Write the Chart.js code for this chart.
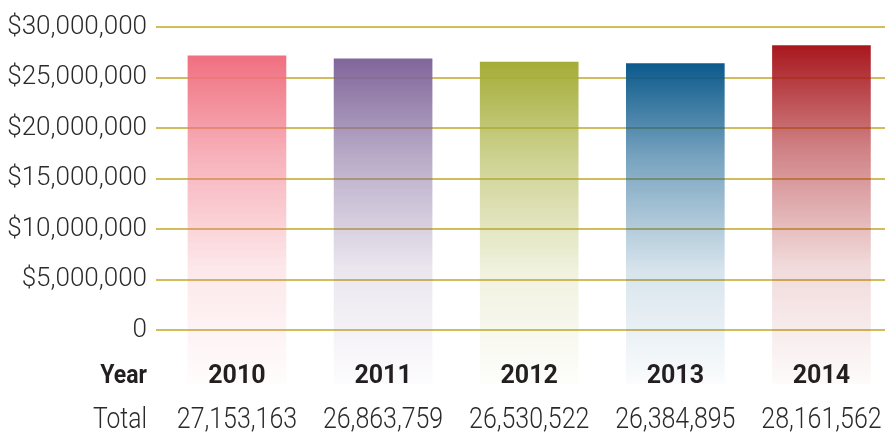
<!DOCTYPE html>
<html>
<head>
<meta charset="utf-8">
<title>Total by Year</title>
<script src="https://cdn.jsdelivr.net/npm/chart.js@4.4.1/dist/chart.umd.min.js"></script>
<style>
  html, body { margin: 0; padding: 0; background: #fff; }
  #wrap { width: 885px; height: 432px; }
</style>
</head>
<body>
<div id="wrap"><canvas id="myChart" width="885" height="432"></canvas></div>
<script>
'use strict';

// Data
let years = ['2010', '2011', '2012', '2013', '2014'];
let totals = [27153163, 26863759, 26530522, 26384895, 28161562];
let barColors = ['#f07080', '#80669a', '#a5ad37', '#0c5a8c', '#a8181e'];
let yTicks = [0, 5000000, 10000000, 15000000, 20000000, 25000000, 30000000];

// bars fade out a little below the zero line
let yMin = -5290000;
let yMax = 30240000;

let labelFont = "Roboto, 'Liberation Sans', sans-serif";

function hexToRgb(hex) {
  let n = parseInt(hex.slice(1), 16);
  return `${(n >> 16) & 255},${(n >> 8) & 255},${n & 255}`;
}

function barGradient(context) {
  let i = context.dataIndex;
  if (i === undefined) {
    return barColors[0];
  }
  let chart = context.chart;
  let area = chart.chartArea;
  if (!area) {
    return barColors[i];
  }
  let rgb = hexToRgb(barColors[i]);
  let top = chart.scales.y.getPixelForValue(totals[i]);
  let g = chart.ctx.createLinearGradient(0, top, 0, area.bottom);
  g.addColorStop(0, `rgba(${rgb},1)`);
  g.addColorStop(0.3, `rgba(${rgb},0.55)`);
  g.addColorStop(0.65, `rgba(${rgb},0.16)`);
  g.addColorStop(1, `rgba(${rgb},0.02)`);
  return g;
}

// condensed-looking text: squeeze horizontally around its anchor
function narrowText(ctx, text, x, y, squeeze) {
  ctx.save();
  ctx.translate(x, y);
  ctx.scale(squeeze, 1);
  ctx.fillText(text, 0, 0);
  ctx.restore();
}

// year / total rows under the bars
let tableRows = {
  id: 'tableRows',
  afterDraw(chart) {
    let ctx = chart.ctx;
    let xScale = chart.scales.x;
    ctx.save();
    ctx.textBaseline = 'alphabetic';

    ctx.textAlign = 'right';
    ctx.fillStyle = '#231f20';
    ctx.font = 'bold 25px ' + labelFont;
    narrowText(ctx, 'Year', 147, 383, 0.92);
    ctx.fillStyle = '#2a2a2a';
    ctx.font = '300 29px ' + labelFont;
    narrowText(ctx, 'Total', 147, 428, 0.85);

    ctx.textAlign = 'center';
    for (let i = 0; i < years.length; i++) {
      let cx = xScale.getPixelForValue(i);
      ctx.fillStyle = '#231f20';
      ctx.font = 'bold 25px ' + labelFont;
      ctx.fillText(years[i], cx, 383);
      ctx.fillStyle = '#2a2a2a';
      ctx.font = '300 29px ' + labelFont;
      narrowText(ctx, totals[i].toLocaleString('en-US'), cx, 428, 0.86);
    }
    ctx.restore();
  }
};

let ctx = document.getElementById('myChart').getContext('2d');
let myChart = new Chart(ctx, { //eslint-disable-line
  type: 'bar',
  data: {
    datasets: [{
      data: totals.map((v, i) => ({ x: i, y: v })),
      backgroundColor: barGradient,
      borderWidth: 0,
      barThickness: 98,
      base: yMin
    }]
  },
  options: {
    responsive: false,
    animation: false,
    layout: { padding: { top: 18, bottom: 48, left: 0, right: 0 } },
    plugins: {
      legend: { display: false },
      tooltip: { enabled: false }
    },
    scales: {
      x: {
        type: 'linear',
        display: false,
        offset: false,
        min: -0.554,
        max: 4.435
      },
      y: {
        min: yMin,
        max: yMax,
        z: 1,
        afterBuildTicks: scale => {
          scale.ticks = yTicks.map(v => ({ value: v }));
        },
        afterFit: scale => {
          scale.width = 156;
        },
        border: { display: false },
        grid: {
          color: 'rgba(201,177,66,0.85)',
          lineWidth: 2,
          drawTicks: false
        },
        ticks: {
          padding: 9,
          color: '#2a2a2a',
          font: { family: labelFont, size: 26, weight: '300' },
          callback: v => v === 0 ? '0' : '$' + v.toLocaleString('en-US')
        }
      }
    }
  },
  plugins: [tableRows]
});
</script>
</body>
</html>
